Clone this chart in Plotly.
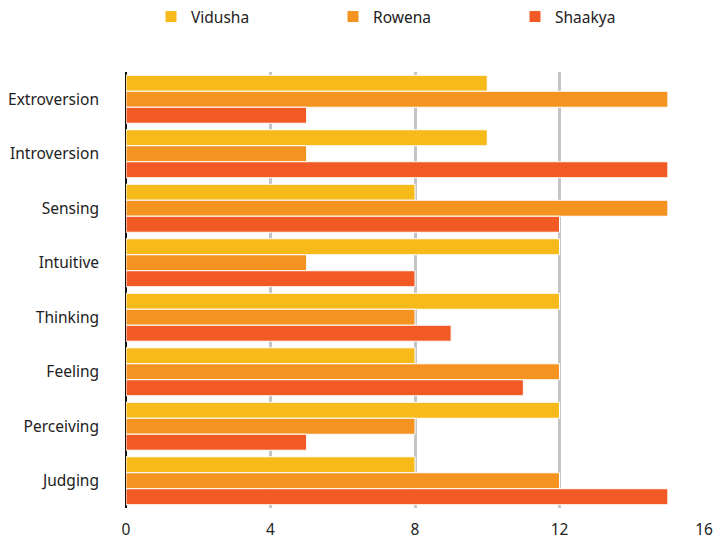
import plotly.graph_objects as go

categories = ["Extroversion", "Introversion", "Sensing", "Intuitive", "Thinking", "Feeling", "Perceiving", "Judging"]
vidusha = [10, 10, 8, 12, 12, 8, 12, 8]
rowena = [15, 5, 15, 5, 8, 12, 8, 12]
shaakya = [5, 15, 12, 8, 9, 11, 5, 15]
series_names = ["Vidusha", "Rowena", "Shaakya"]
colors = ["#F7BA1B", "#F59320", "#F15A24"]
x_ticks = [0, 4, 8, 12, 16]

fig = go.Figure()
for name, vals, col in zip(series_names, [vidusha, rowena, shaakya], colors):
    fig.add_trace(go.Bar(
        y=categories, x=vals, name=name, orientation="h",
        marker=dict(color=col, line=dict(color="white", width=1)),
    ))

font_family = "Noto Sans, Open Sans, sans-serif"
fig.update_layout(
    width=714, height=539,
    margin=dict(l=126, r=10, t=72, b=31, autoexpand=False),
    barmode="group", bargap=0.12,
    plot_bgcolor="white", paper_bgcolor="white",
    font=dict(family=font_family, size=15.5, color="#222222"),
    legend=dict(orientation="h", xref="container", yref="container",
                x=151/714, y=1.0, yanchor="top", xanchor="left",
                entrywidth=137, entrywidthmode="pixels",
                font=dict(size=15.5, color="#222222"), traceorder="normal"),
    xaxis=dict(range=[0, 16], tickvals=x_ticks, showgrid=True, gridcolor="#C4C4C4", gridwidth=3,
               zeroline=True, zerolinecolor="#111111", zerolinewidth=2, showline=False,
               ticks="", ticklabelstandoff=10, fixedrange=True),
    yaxis=dict(autorange="reversed", showgrid=False, ticks="", ticklabelstandoff=26,
               showline=False, fixedrange=True),
)
fig.write_html("out.html")
